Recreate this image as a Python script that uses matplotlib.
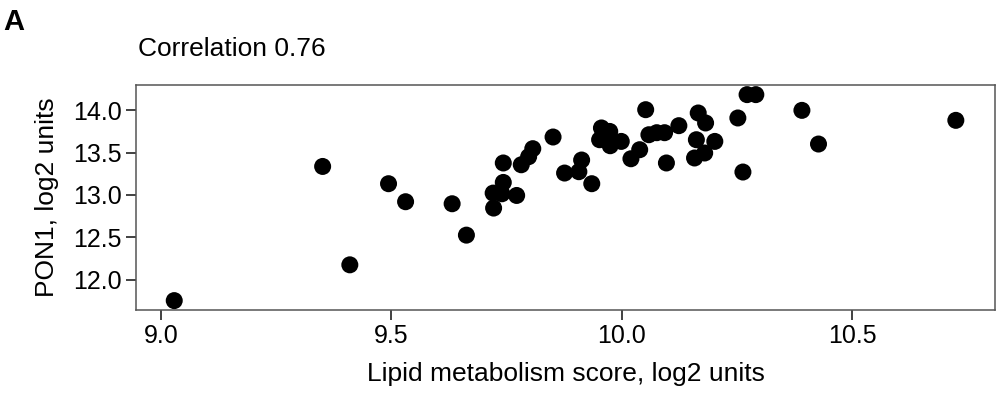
import matplotlib
matplotlib.use('Agg')
import matplotlib.pyplot as plt

plt.rcParams['font.family'] = ['Liberation Sans', 'DejaVu Sans']

# Lipid metabolism score (x) vs PON1 (y), log2 units
lipid = [9.029, 9.351, 9.410, 9.494, 9.531, 9.632, 9.663, 9.743, 9.721, 9.722,
         9.743, 9.740, 9.772, 9.782, 9.807, 9.798, 9.851, 9.876, 9.913, 9.907,
         9.935, 9.956, 9.952, 9.974, 9.975, 9.999, 10.020, 10.039, 10.052, 10.059,
         10.076, 10.093, 10.097, 10.124, 10.166, 10.182, 10.162, 10.202, 10.180, 10.158,
         10.252, 10.272, 10.291, 10.263, 10.391, 10.427, 10.725]
pon1 = [11.751, 13.337, 12.174, 13.133, 12.920, 12.896, 12.525, 13.378, 13.022, 12.845,
        13.148, 13.014, 12.994, 13.357, 13.547, 13.452, 13.685, 13.259, 13.413, 13.275,
        13.133, 13.792, 13.653, 13.751, 13.582, 13.633, 13.428, 13.535, 14.008, 13.712,
        13.736, 13.736, 13.378, 13.819, 13.969, 13.851, 13.653, 13.633, 13.496, 13.437,
        13.910, 14.186, 14.186, 13.271, 14.000, 13.602, 13.882]

xticks = [9.0, 9.5, 10.0, 10.5]
yticks = [12.0, 12.5, 13.0, 13.5, 14.0]

fig = plt.figure(figsize=(9.97, 4.08), dpi=100)
ax = fig.add_axes([0.1364, 0.2402, 0.8616, 0.5515])

ax.scatter(lipid, pon1, s=150, c='black', edgecolors='none', zorder=3)

ax.set_xlim(8.946, 10.81)
ax.set_ylim(11.64, 14.30)
ax.set_xticks(xticks)
ax.set_xticklabels(['%.1f' % v for v in xticks])
ax.set_yticks(yticks)
ax.set_yticklabels(['%.1f' % v for v in yticks])

for sp in ax.spines.values():
    sp.set_color('#555555')
    sp.set_linewidth(1.1)
ax.tick_params(direction='out', length=7, width=1.3, color='#333333',
               labelsize=18, labelcolor='black', pad=3)

ax.set_xlabel('Lipid metabolism score, log2 units', fontsize=19, labelpad=10)
ax.set_ylabel('PON1, log2 units', fontsize=19, labelpad=10)

fig.text(0.1384, 0.881, 'Correlation 0.76', fontsize=19, ha='left', va='center')
fig.text(0.003, 0.946, 'A', fontsize=21, fontweight='bold', ha='left', va='center')

fig.savefig('out.png', dpi=100)
